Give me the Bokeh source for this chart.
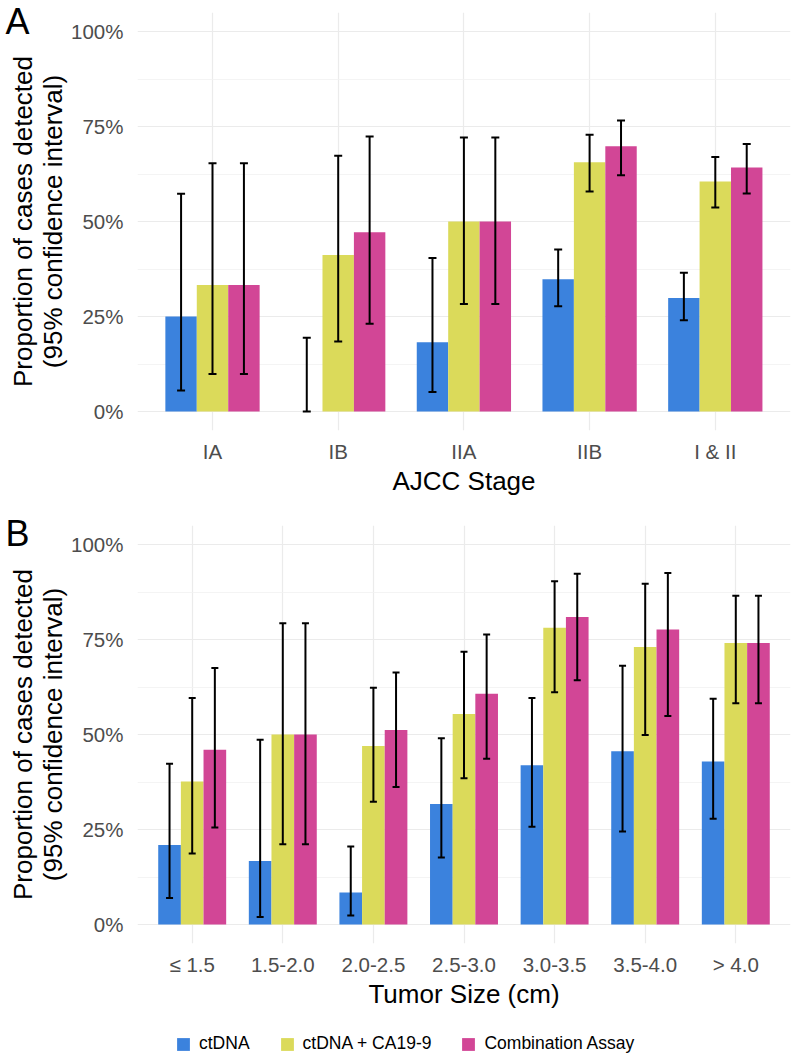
import numpy as np
from bokeh.plotting import figure
from bokeh.models import (ColumnDataSource, Whisker, TeeHead, FixedTicker, Range1d,
                          LinearAxis, Legend, LegendItem, PrintfTickFormatter)
from bokeh.layouts import column
from bokeh.embed import file_html
from bokeh.resources import INLINE

# ---------------- data ----------------
series_names = ["ctDNA", "ctDNA + CA19-9", "Combination Assay"]
series_colors = ["#3B82DD", "#DBDA5A", "#D24696"]

stages = ["IA", "IB", "IIA", "IIB", "I & II"]
A_ctdna = [25.0, 0.0, 18.2, 34.8, 29.9]
A_ctdna_lo = [5.5, 0.0, 5.1, 27.7, 24.0]
A_ctdna_hi = [57.3, 19.4, 40.4, 42.6, 36.5]
A_ca = [33.3, 41.2, 50.0, 65.6, 60.5]
A_ca_lo = [9.9, 18.4, 28.3, 57.9, 53.7]
A_ca_hi = [65.3, 67.3, 72.1, 72.8, 67.0]
A_comb = [33.3, 47.2, 50.0, 69.8, 64.2]
A_comb_lo = [9.9, 23.1, 28.3, 62.2, 57.4]
A_comb_hi = [65.3, 72.4, 72.1, 76.6, 70.4]

sizes = ["\u2264 1.5", "1.5-2.0", "2.0-2.5", "2.5-3.0", "3.0-3.5", "3.5-4.0", "> 4.0"]
B_ctdna = [20.9, 16.7, 8.4, 31.7, 41.9, 45.6, 42.9]
B_ctdna_lo = [7.0, 2.0, 2.4, 17.6, 25.7, 24.5, 27.8]
B_ctdna_hi = [42.3, 48.6, 20.5, 49.0, 59.6, 68.1, 59.4]
B_ca = [37.6, 50.0, 47.0, 55.4, 78.1, 73.0, 74.1]
B_ca_lo = [18.7, 21.1, 32.3, 38.5, 61.1, 49.9, 58.2]
B_ca_hi = [59.6, 79.3, 62.3, 71.8, 90.3, 89.7, 86.5]
B_comb = [46.0, 50.0, 51.2, 60.7, 80.9, 77.6, 74.1]
B_comb_lo = [25.5, 21.1, 36.2, 43.6, 64.3, 54.9, 58.2]
B_comb_hi = [67.5, 79.3, 66.3, 76.3, 92.3, 92.5, 86.5]

y_ticks = [0, 25, 50, 75, 100]
y_minor = [12.5, 37.5, 62.5, 87.5]
letter_tick = 103

FONT = "Liberation Sans"
W = 793
LEFT = 137
RIGHT = 3
FRAME_W = W - LEFT - RIGHT


def panel(cats, series, xlabel, letter, height, top, bottom, spacing_px, cap):
    first_px = 75.0 if len(cats) == 5 else 54.7   # distance of first category from frame edge
    xstart = 1 - first_px / spacing_px
    xend = xstart + FRAME_W / spacing_px
    p = figure(width=W, height=height, x_range=Range1d(xstart, xend),
               y_range=Range1d(-5, 105), output_backend="svg", toolbar_location=None,
               min_border_left=LEFT, min_border_right=RIGHT, min_border_top=top,
               min_border_bottom=bottom, background_fill_color="white",
               border_fill_color="white")
    p.outline_line_color = None
    x = np.arange(1, len(cats) + 1)
    offsets = [-0.25, 0.0, 0.25]
    for (vals, lo, hi), color, off in zip(series, series_colors, offsets):
        src = ColumnDataSource(dict(x=x + off, top=vals, lower=lo, upper=hi))
        p.vbar(x="x", top="top", bottom=0, width=0.25, source=src,
               fill_color=color, line_color=None)
        w = Whisker(source=src, base="x", upper="upper", lower="lower",
                    line_color="black", line_width=2, level="annotation",
                    upper_head=TeeHead(size=cap, line_width=2, line_color="black"),
                    lower_head=TeeHead(size=cap, line_width=2, line_color="black"))
        p.add_layout(w)

    # grids
    p.xgrid.ticker = FixedTicker(ticks=list(x))
    p.xgrid.grid_line_color = "#ebebeb"
    p.xgrid.grid_line_width = 1.2
    p.ygrid.ticker = FixedTicker(ticks=y_ticks, minor_ticks=y_minor)
    p.ygrid.grid_line_color = "#ebebeb"
    p.ygrid.grid_line_width = 1.2
    p.ygrid.minor_grid_line_color = "#f1f1f1"
    p.ygrid.minor_grid_line_width = 0.8

    # axes
    p.xaxis.ticker = FixedTicker(ticks=list(x))
    p.xaxis.major_label_overrides = {int(i): c for i, c in zip(x, cats)}
    p.yaxis.ticker = FixedTicker(ticks=y_ticks, minor_ticks=[])
    p.yaxis.formatter = PrintfTickFormatter(format="%d%%")
    for ax in (p.xaxis, p.yaxis):
        ax.axis_line_color = None
        ax.major_tick_line_color = None
        ax.minor_tick_line_color = None
        ax.major_tick_out = 0
        ax.major_tick_in = 0
        ax.major_label_text_font = FONT
        ax.major_label_text_font_size = "20.5px"
        ax.major_label_text_color = "#4d4d4d"
        ax.axis_label_text_font = FONT
        ax.axis_label_text_font_style = "normal"
        ax.axis_label_text_font_size = "26px"
        ax.axis_label_text_color = "black"
    p.xaxis.axis_label = xlabel
    p.xaxis.major_label_standoff = 9
    p.xaxis.axis_label_standoff = 0
    p.yaxis.axis_label = "Proportion of cases detected\n(95% confidence interval)"
    p.yaxis.major_label_standoff = 14
    p.yaxis.axis_label_standoff = 0
    p.yaxis.axis_label_text_line_height = 1.0

    # panel letter, drawn as the single tick label of an outer left axis
    lax = LinearAxis(ticker=FixedTicker(ticks=[letter_tick], minor_ticks=[]),
                     major_label_overrides={letter_tick: letter},
                     major_label_standoff=-24, axis_line_color=None,
                     major_tick_line_color=None, minor_tick_line_color=None,
                     major_tick_in=0, major_tick_out=0,
                     major_label_text_font=FONT, major_label_text_font_size="36px",
                     major_label_text_color="black")
    p.add_layout(lax, "left")
    return p


pA = panel(stages,
           [(A_ctdna, A_ctdna_lo, A_ctdna_hi), (A_ca, A_ca_lo, A_ca_hi),
            (A_comb, A_comb_lo, A_comb_hi)],
           "AJCC Stage", "A", height=500, top=12, bottom=70, spacing_px=125.7, cap=8)
pB = panel(sizes,
           [(B_ctdna, B_ctdna_lo, B_ctdna_hi), (B_ca, B_ca_lo, B_ca_hi),
            (B_comb, B_comb_lo, B_comb_hi)],
           "Tumor Size (cm)", "B", height=514, top=25, bottom=71, spacing_px=90.6, cap=7)

# legend strip
pL = figure(width=W, height=42, x_range=Range1d(0, 1), y_range=Range1d(0, 1),
            x_axis_type=None, y_axis_type=None, output_backend="svg",
            toolbar_location=None, min_border=0, min_border_left=LEFT,
            min_border_right=RIGHT, outline_line_color=None)
pL.grid.visible = False
items = []
for name, color in zip(series_names, series_colors):
    # zero-size swatch renderer that only feeds the legend
    r = pL.vbar(x=[0.5], top=[0.0], bottom=0.0, width=0.0, fill_color=color,
                line_color=None)
    items.append(LegendItem(label=name, renderers=[r]))
lg = Legend(items=items, orientation="horizontal", location=(38, 2),
            glyph_width=16, glyph_height=16, label_height=16,
            label_standoff=8, spacing=29, padding=0, margin=0,
            border_line_color=None, background_fill_alpha=0,
            label_text_font=FONT, label_text_font_size="17.5px",
            label_text_color="black")
pL.add_layout(lg)

layout = column(pA, pB, pL, spacing=0)
open("out.html", "w").write(file_html(layout, INLINE))
